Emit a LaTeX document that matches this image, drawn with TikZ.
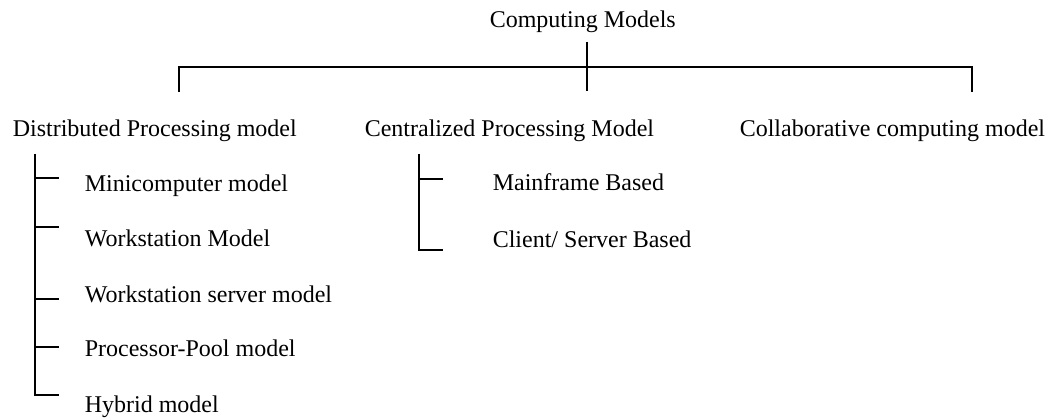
\documentclass[tikz,border=0pt]{standalone}
\usepackage{fontspec}
\setmainfont{Liberation Serif}
\begin{document}
\begin{tikzpicture}[x=1pt,y=-1pt,line width=1.6pt,
    txt/.style={inner sep=0pt,anchor=base west,font=\fontsize{24}{28}\selectfont}]
        \useasboundingbox (0,0) rectangle (1052,419);

        % Top level
        \node[txt] (root) at (489,28) {Computing Models};
        \node[txt] (dist) at (12,137) {Distributed Processing model};
        \node[txt] (cent) at (364,137) {Centralized Processing Model};
        \node[txt] (coll) at (739,137) {Collaborative computing model};

        % Bracket under the root
        \coordinate (rootdrop) at (587,42);
        \coordinate (hub) at (587,67);
        \coordinate (cdrop) at (587,91);
        \coordinate (ldrop) at (179,92);
        \coordinate (rdrop) at (972,92);
        \draw (rootdrop) -- (cdrop);
        \draw (ldrop) |- (hub) -| (rdrop);

        % Distributed processing branches
        \node[txt] (mini) at (84,192) {Minicomputer model};
        \node[txt] (work) at (84,247) {Workstation Model};
        \node[txt] (wsrv) at (84,303) {Workstation server model};
        \node[txt] (pool) at (84,357) {Processor-Pool model};
        \node[txt] (hybr) at (84,413) {Hybrid model};
        \coordinate (dtop) at (35,154);
        \coordinate (mini-t) at (59,178);
        \coordinate (work-t) at (59,227);
        \coordinate (wsrv-t) at (59,299);
        \coordinate (pool-t) at (59,347);
        \coordinate (hybr-t) at (59,395);
        \draw (dtop) |- (hybr-t);
        \draw (dtop |- mini-t) -- (mini-t);
        \draw (dtop |- work-t) -- (work-t);
        \draw (dtop |- wsrv-t) -- (wsrv-t);
        \draw (dtop |- pool-t) -- (pool-t);

        % Centralized processing branches
        \node[txt] (main) at (492,191) {Mainframe Based};
        \node[txt] (clsv) at (492,248) {Client/ Server Based};
        \coordinate (ctop) at (419,154);
        \coordinate (main-t) at (443,179);
        \coordinate (clsv-t) at (443,250);
        \draw (ctop) |- (clsv-t);
        \draw (ctop |- main-t) -- (main-t);
    \end{tikzpicture}
\end{document}
